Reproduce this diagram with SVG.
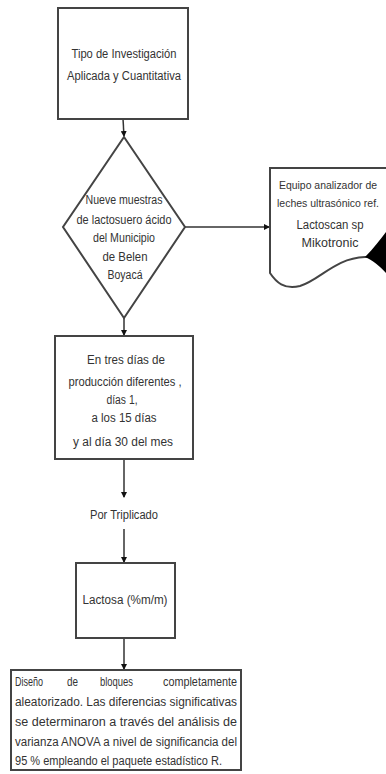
<svg xmlns="http://www.w3.org/2000/svg" width="386" height="774" viewBox="0 0 386 774">
<style>
.box{fill:#fff;stroke:#444;stroke-width:2}
.t{font-family:"Liberation Sans",Arial,sans-serif;font-size:12.5px;fill:#333}
.s{font-size:10.5px}
.c{text-anchor:middle}
.ln{stroke:#333;stroke-width:1.5;fill:none}
</style>
<defs>
<marker id="ah" markerWidth="6" markerHeight="6" refX="5" refY="3" orient="auto" markerUnits="userSpaceOnUse">
<path d="M0,0 L6,3 L0,6 Z" fill="#111"/>
</marker>
</defs>
<rect width="386" height="774" fill="#fff"/>
<g id="connectors">
<line class="ln" x1="123" y1="119" x2="124" y2="136" marker-end="url(#ah)"/>
<line class="ln" x1="185" y1="227" x2="269" y2="227" marker-end="url(#ah)"/>
<line class="ln" x1="124" y1="318" x2="124" y2="335" marker-end="url(#ah)"/>
<line class="ln" x1="124" y1="460" x2="124" y2="497" marker-end="url(#ah)"/>
<line class="ln" x1="124" y1="529" x2="124" y2="562" marker-end="url(#ah)"/>
<line class="ln" x1="124" y1="639" x2="124" y2="669" marker-end="url(#ah)"/>
</g>
<g id="n1">
<rect class="box" x="58" y="8" width="130" height="111"/>
<text class="t c" x="124" y="58" textLength="105" lengthAdjust="spacingAndGlyphs">Tipo de Investigación</text>
<text class="t c" x="124" y="80" textLength="114" lengthAdjust="spacingAndGlyphs">Aplicada y Cuantitativa</text>
</g>
<g id="n2">
<polygon class="box" points="124,137 185,227 124,318 63,227"/>
<text class="t c" x="124" y="204" textLength="77" lengthAdjust="spacingAndGlyphs">Nueve muestras</text>
<text class="t c" x="124" y="224" textLength="95" lengthAdjust="spacingAndGlyphs">de lactosuero ácido</text>
<text class="t c" x="124" y="242" textLength="62" lengthAdjust="spacingAndGlyphs">del Municipio</text>
<text class="t c" x="125" y="261" textLength="45" lengthAdjust="spacingAndGlyphs">de Belen</text>
<text class="t c" x="125" y="279" textLength="35" lengthAdjust="spacingAndGlyphs">Boyacá</text>
</g>
<g id="n3">
<path class="box" d="M386,168 H270 V273 C276,282 284,290 300,286 C320,280 335,258 365,257 L386,257"/>
<path d="M365,257 C372,250 380,240 386,232 L386,273 C380,266 372,260 365,257 Z" fill="#000"/>
<text class="t s c" x="328" y="189" textLength="98" lengthAdjust="spacingAndGlyphs">Equipo analizador de</text>
<text class="t s c" x="328" y="207" textLength="102" lengthAdjust="spacingAndGlyphs">leches ultrasónico ref.</text>
<text class="t c" x="330" y="229" textLength="67" lengthAdjust="spacingAndGlyphs">Lactoscan sp</text>
<text class="t c" x="330" y="247" textLength="57" lengthAdjust="spacingAndGlyphs">Mikotronic</text>
</g>
<g id="n4">
<rect class="box" x="55" y="336" width="138" height="123"/>
<text class="t c" x="126" y="364" textLength="78" lengthAdjust="spacingAndGlyphs">En tres días de</text>
<text class="t c" x="125" y="386" textLength="113" lengthAdjust="spacingAndGlyphs">producción diferentes ,</text>
<text class="t c" x="122" y="404" textLength="31" lengthAdjust="spacingAndGlyphs">días 1,</text>
<text class="t c" x="124" y="422" textLength="65" lengthAdjust="spacingAndGlyphs">a los 15 días</text>
<text class="t c" x="123" y="446" textLength="100" lengthAdjust="spacingAndGlyphs">y al día 30  del mes</text>
</g>
<g id="n5">
<text class="t c" x="124" y="519" textLength="68" lengthAdjust="spacingAndGlyphs">Por Triplicado</text>
</g>
<g id="n6">
<rect class="box" x="76" y="563" width="99" height="75"/>
<text class="t c" x="125" y="604" textLength="85" lengthAdjust="spacingAndGlyphs">Lactosa (%m/m)</text>
</g>
<g id="n7">
<rect class="box" x="11" y="670" width="230" height="100"/>
<text class="t" x="15" y="686" textLength="28" lengthAdjust="spacingAndGlyphs">Diseño</text>
<text class="t" x="67" y="686" textLength="11" lengthAdjust="spacingAndGlyphs">de</text>
<text class="t" x="100" y="686" textLength="33" lengthAdjust="spacingAndGlyphs">bloques</text>
<text class="t" x="163" y="686" textLength="74" lengthAdjust="spacingAndGlyphs">completamente</text>
<text class="t" x="15" y="706" textLength="222" lengthAdjust="spacingAndGlyphs">aleatorizado. Las diferencias significativas</text>
<text class="t" x="15" y="726" textLength="222" lengthAdjust="spacingAndGlyphs">se determinaron a través del análisis de</text>
<text class="t" x="15" y="746" textLength="222" lengthAdjust="spacingAndGlyphs">varianza ANOVA a nivel de significancia del</text>
<text class="t" x="15" y="765" textLength="207" lengthAdjust="spacingAndGlyphs">95 % empleando el paquete estadístico R.</text>
</g>
</svg>
